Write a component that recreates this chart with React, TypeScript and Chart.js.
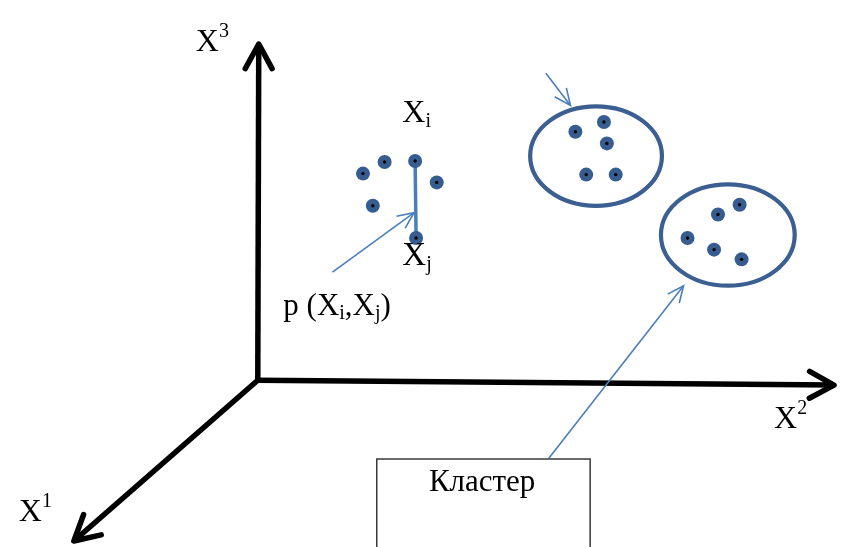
import React, { useEffect, useRef } from "react";
import { Chart, registerables } from "chart.js";

Chart.register(...registerables);

const W = 843;
const H = 547;

// Coordinate axes X1, X2, X3 (common origin, arrow tips)
const axisOriginX = [255];
const axisOriginY = [383];
const axisTipX = [68, 841, 256];
const axisTipY = [548, 388, 38];
const axisSup = ["1", "2", "3"];
const axisLabelX = [12, 780, 192];
const axisLabelY = [528, 432, 45];

// Unclustered objects
const looseX = [362, 384, 415, 437, 372, 416];
const looseY = [171, 159, 158, 180, 204, 237];
const pairIdx = [2, 5];

// Clusters (objects + enclosing ellipse)
const cluster1X = [578, 607, 610, 589, 619];
const cluster1Y = [128, 118, 140, 172, 172];
const cluster2X = [745, 723, 692, 719, 747];
const cluster2Y = [203, 213, 237, 249, 259];
const ellipseCx = [599, 733];
const ellipseCy = [153, 234];
const ellipseRx = [67, 68];
const ellipseRy = [51, 52];

// Thin pointer arrows
const pointerFromX = [331, 548, 551];
const pointerFromY = [272, 68, 463];
const pointerToX = [414, 573, 688];
const pointerToY = [211, 101, 286];

// Caption box
const boxX = [376, 593];
const boxY = [464, 570];
const boxCaption = "Кластер";
const boxCaptionAt = [429, 497];

// Point labels
const xiAt = [402, 118];
const xjAt = [402, 265];
const pairLabelAt = [281, 316];

const DOT = "#375d90";
const RING = "#3b5f90";
const THIN = "#4a7ebb";
const SERIF = '"Liberation Serif", "Times New Roman", serif';

type Run = { t: string; size: number; dy: number };

function drawRuns(ctx: CanvasRenderingContext2D, x: number, y: number, runs: Run[]) {
  let cx = x;
  for (const r of runs) {
    ctx.font = `${r.size}px ${SERIF}`;
    ctx.fillText(r.t, cx, y + r.dy);
    cx += ctx.measureText(r.t).width;
  }
}

function head(ctx: CanvasRenderingContext2D, fx: number, fy: number, tx: number, ty: number, len: number, ang: number) {
  const a = Math.atan2(ty - fy, tx - fx);
  ctx.beginPath();
  ctx.moveTo(tx - len * Math.cos(a - ang), ty - len * Math.sin(a - ang));
  ctx.lineTo(tx, ty);
  ctx.lineTo(tx - len * Math.cos(a + ang), ty - len * Math.sin(a + ang));
  ctx.stroke();
}

const diagramPlugin = {
  id: "diagram",
  beforeDatasetsDraw(chart: any) {
    const { ctx, scales } = chart;
    const sx = scales.x;
    const sy = scales.y;
    ctx.save();
    ctx.strokeStyle = RING;
    ctx.lineWidth = 4.2;
    for (let i = 0; i < ellipseCx.length; i++) {
      const cx = sx.getPixelForValue(ellipseCx[i]);
      const cy = sy.getPixelForValue(ellipseCy[i]);
      const rx = Math.abs(sx.getPixelForValue(ellipseCx[i] + ellipseRx[i]) - cx);
      const ry = Math.abs(sy.getPixelForValue(ellipseCy[i] + ellipseRy[i]) - cy);
      ctx.beginPath();
      ctx.ellipse(cx, cy, rx, ry, 0, 0, Math.PI * 2);
      ctx.stroke();
    }
    ctx.restore();
  },
  afterDatasetsDraw(chart: any) {
    const { ctx, scales } = chart;
    const sx = scales.x;
    const sy = scales.y;
    const px = (v: number) => sx.getPixelForValue(v);
    const py = (v: number) => sy.getPixelForValue(v);
    ctx.save();
    // axis arrowheads
    ctx.strokeStyle = "#000";
    ctx.lineWidth = 5.5;
    ctx.lineCap = "round";
    ctx.lineJoin = "round";
    for (let i = 0; i < axisTipX.length; i++) {
      head(ctx, px(axisOriginX[0]), py(axisOriginY[0]), px(axisTipX[i]), py(axisTipY[i]), 28, 0.5);
    }
    // thin arrowheads
    ctx.strokeStyle = THIN;
    ctx.lineWidth = 1.6;
    ctx.lineCap = "butt";
    ctx.lineJoin = "miter";
    for (let i = 0; i < pointerFromX.length; i++) {
      head(ctx, px(pointerFromX[i]), py(pointerFromY[i]), px(pointerToX[i]), py(pointerToY[i]), 18, 0.42);
    }
    // black centres of objects
    ctx.fillStyle = "#000";
    const allX = [...looseX, ...cluster1X, ...cluster2X];
    const allY = [...looseY, ...cluster1Y, ...cluster2Y];
    for (let i = 0; i < allX.length; i++) {
      ctx.beginPath();
      ctx.arc(px(allX[i]), py(allY[i]), 1.7, 0, Math.PI * 2);
      ctx.fill();
    }
    // texts
    ctx.fillStyle = "#000";
    ctx.textBaseline = "alphabetic";
    ctx.textAlign = "left";
    for (let i = 0; i < axisSup.length; i++) {
      drawRuns(ctx, px(axisLabelX[i]), py(axisLabelY[i]), [
        { t: "X", size: 32, dy: 0 },
        { t: axisSup[i], size: 20, dy: -14 },
      ]);
    }
    drawRuns(ctx, px(xiAt[0]), py(xiAt[1]), [
      { t: "X", size: 32, dy: 0 },
      { t: "i", size: 20, dy: 5 },
    ]);
    drawRuns(ctx, px(xjAt[0]), py(xjAt[1]), [
      { t: "X", size: 33, dy: 0 },
      { t: "j", size: 20, dy: 5 },
    ]);
    drawRuns(ctx, px(pairLabelAt[0]), py(pairLabelAt[1]), [
      { t: "p (X", size: 31, dy: 0 },
      { t: "i", size: 20, dy: 4 },
      { t: ",X", size: 31, dy: 0 },
      { t: "j", size: 20, dy: 4 },
      { t: ")", size: 31, dy: 0 },
    ]);
    ctx.font = `31px ${SERIF}`;
    ctx.fillText(boxCaption, px(boxCaptionAt[0]), py(boxCaptionAt[1]));
    ctx.restore();
  },
};

export default function App() {
  const ref = useRef<HTMLCanvasElement | null>(null);
  useEffect(() => {
    if (!ref.current) return;
    const o = { x: axisOriginX[0], y: axisOriginY[0] };
    const axisSets = axisTipX.map((tx, i) => ({
      type: "scatter" as const,
      data: [o, { x: tx, y: axisTipY[i] }],
      showLine: true,
      borderColor: "#000",
      borderWidth: 5.5,
      pointRadius: 0,
      clip: false as any,
      order: 10,
    }));
    const pointerSets = pointerFromX.map((fx, i) => ({
      type: "scatter" as const,
      data: [
        { x: fx, y: pointerFromY[i] },
        { x: pointerToX[i], y: pointerToY[i] },
      ],
      showLine: true,
      borderColor: THIN,
      borderWidth: 1.6,
      pointRadius: 0,
      clip: false as any,
      order: 9,
    }));
    const dots = [
      ...looseX.map((x, i) => ({ x, y: looseY[i] })),
      ...cluster1X.map((x, i) => ({ x, y: cluster1Y[i] })),
      ...cluster2X.map((x, i) => ({ x, y: cluster2Y[i] })),
    ];
    const chart = new Chart(ref.current, {
      type: "scatter",
      data: {
        datasets: [
          ...axisSets,
          ...pointerSets,
          {
            data: [
              { x: boxX[0], y: boxY[1] },
              { x: boxX[0], y: boxY[0] },
              { x: boxX[1], y: boxY[0] },
              { x: boxX[1], y: boxY[1] },
            ],
            showLine: true,
            borderColor: "#3a3a3a",
            borderWidth: 1.5,
            pointRadius: 0,
            clip: false as any,
            order: 8,
          },
          {
            data: pairIdx.map((k) => ({ x: looseX[k], y: looseY[k] })),
            showLine: true,
            borderColor: THIN,
            borderWidth: 3.5,
            pointRadius: 0,
            clip: false as any,
            order: 7,
          },
          {
            data: dots,
            pointRadius: 7,
            pointBackgroundColor: DOT,
            pointBorderWidth: 0,
            borderColor: DOT,
            clip: false as any,
            order: 1,
          },
        ] as any,
      },
      options: {
        animation: false,
        responsive: false,
        devicePixelRatio: 1,
        layout: { padding: 0 },
        events: [],
        scales: {
          x: { type: "linear", min: 0, max: W, display: false },
          y: { type: "linear", min: 0, max: H, reverse: true, display: false },
        },
        plugins: { legend: { display: false }, tooltip: { enabled: false } },
      },
      plugins: [diagramPlugin],
    });
    return () => chart.destroy();
  }, []);
  return (
    <div style={{ position: "absolute", left: 0, top: 0, width: W, height: H, background: "#fff" }}>
      <canvas ref={ref} width={W} height={H} style={{ display: "block" }} />
    </div>
  );
}
